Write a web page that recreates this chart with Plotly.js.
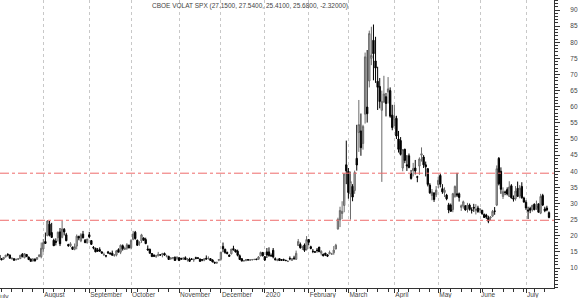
<!DOCTYPE html>
<html>
<head>
<meta charset="utf-8">
<script src="https://cdn.plot.ly/plotly-3.0.1.min.js"></script>
<style>html,body{margin:0;padding:0;background:#fff;}#chart{width:580px;height:298px;}</style>
</head>
<body>
<div id="chart"></div>
<script>
// Trading-day OHLC of CBOE VIX, July 2019 - 17 July 2020
const open = [
  14.9,14.0,12.9,12.8,13.5,14.2,14.0,12.9,12.9,12.6,12.7,12.9,14.3,13.2,14.2,13.4,12.8,12.2,12.8,12.7,13.6,13.5,
  15.9,18.2,20.0,23.6,21.0,18.6,18.3,19.4,21.2,19.5,22.0,20.3,17.3,16.9,16.5,15.8,16.8,19.8,18.4,20.5,18.6,17.8,
  20.3,18.5,16.4,16.1,15.6,15.7,15.0,14.1,13.8,15.0,14.5,14.6,13.9,14.0,15.7,14.9,16.9,15.8,16.1,17.1,
  16.3,18.9,21.1,18.6,17.7,18.4,19.3,18.8,15.9,15.8,14.5,14.0,13.6,13.8,14.1,14.1,14.5,13.7,13.6,12.8,13.1,13.3,12.9,
  13.2,12.9,12.7,13.2,12.5,12.8,12.7,12.5,13.2,13.1,12.8,12.6,12.4,13.0,12.9,12.9,12.5,11.8,11.5,12.4,
  12.7,16.7,15.8,14.8,14.0,14.4,16.0,15.6,15.2,13.8,12.9,12.2,12.3,12.6,12.5,12.6,12.6,12.8,12.7,13.8,14.8,
  13.5,15.0,15.0,13.9,15.5,12.9,12.4,12.9,12.6,12.6,12.4,12.0,13.0,12.4,13.1,12.7,17.0,17.3,16.3,17.1,15.8,
  18.8,16.6,15.2,15.0,15.5,16.5,14.6,14.3,14.6,14.1,14.4,14.3,14.7,15.9,22.1,24.9,26.9,29.4,42.0,
  40.0,33.0,35.3,34.0,44.0,52.0,52.5,48.6,57.7,59.9,68.0,75.0,80.6,74.2,67.9,66.3,58.9,61.5,63.1,64.6,65.0,57.4,
  56.0,56.4,50.0,49.5,41.0,46.8,42.0,44.8,39.3,40.2,41.0,38.3,41.6,45.0,44.4,42.0,40.8,35.7,32.5,33.3,32.7,
  35.9,38.7,34.6,33.4,32.6,29.6,29.5,28.1,32.2,33.0,33.0,28.8,29.2,29.3,28.6,29.5,28.0,28.8,27.9,28.6,
  28.0,27.9,26.6,26.4,25.6,25.5,26.1,27.7,29.5,44.0,40.0,32.2,33.5,34.3,32.2,35.5,31.7,31.5,34.7,32.3,35.3,31.7,
  30.4,28.0,28.5,28.0,29.8,28.5,29.9,27.0,32.5,28.3,28.6,27.15
];
const high = [
  15.1,14.3,13.0,13.4,14.1,14.6,14.2,13.4,13.0,12.9,13.0,14.0,14.6,14.5,14.3,13.5,12.9,13.1,12.9,13.3,14.3,17.9,
  19.0,21.0,24.8,24.6,24.0,19.1,19.2,21.3,22.4,24.6,22.4,20.9,17.5,18.0,16.6,17.6,20.4,20.0,20.8,21.5,19.0,19.0,
  21.2,18.6,16.8,16.3,16.2,16.4,15.2,14.8,14.0,15.3,14.9,15.4,14.2,15.6,16.1,17.3,17.3,16.6,17.7,17.2,
  18.9,21.5,21.5,18.8,18.3,20.6,19.5,19.4,17.0,16.0,14.6,14.2,14.1,15.0,14.3,14.7,14.8,14.1,13.8,13.3,13.4,13.6,13.7,
  13.3,13.2,13.3,13.6,13.1,13.2,13.1,12.9,13.5,13.4,12.9,12.7,12.9,13.9,13.6,13.1,12.7,11.9,11.9,12.8,
  15.0,17.9,16.0,15.1,14.2,15.9,16.9,15.8,15.7,14.2,13.0,12.5,12.8,12.7,12.7,12.8,12.8,12.8,13.7,15.1,15.0,
  13.7,16.2,16.4,14.5,16.2,13.3,12.9,13.0,12.7,12.9,12.5,12.3,13.6,12.9,13.8,15.4,19.0,17.9,16.9,17.6,19.9,
  19.0,16.9,15.9,15.3,16.2,16.5,15.5,14.4,14.7,14.2,15.4,14.7,16.8,17.5,25.6,29.0,30.7,39.2,49.5,
  41.0,39.9,36.0,40.2,54.4,62.1,57.9,54.4,76.8,77.6,83.6,84.8,85.5,81.7,72.4,68.9,65.0,69.6,64.3,69.2,66.0,60.6,
  60.6,57.2,52.5,50.6,46.8,47.0,45.0,45.5,40.4,42.6,43.5,38.6,44.3,47.4,45.0,43.0,41.0,36.3,34.5,33.3,35.4,
  38.3,39.2,36.0,35.0,33.0,30.2,30.0,33.3,35.6,39.5,33.4,29.7,30.9,29.4,30.2,30.0,28.8,29.9,29.8,29.3,
  28.6,28.0,26.9,26.8,26.2,26.1,28.0,28.9,41.8,44.4,41.2,35.0,34.0,35.0,36.9,36.0,32.5,35.4,36.8,35.7,36.6,32.1,
  31.0,29.0,29.0,29.6,30.0,30.9,30.0,33.0,33.0,29.0,29.3,27.54
];
const low = [
  13.8,12.9,12.4,12.5,13.2,13.6,12.9,12.6,12.3,12.3,12.5,12.8,13.3,13.0,13.4,12.5,12.0,12.0,12.1,12.5,13.3,13.0,
  15.0,17.5,19.9,19.8,19.3,16.9,17.0,18.2,16.8,19.2,20.1,18.3,16.6,16.5,15.6,15.5,15.8,18.6,18.0,19.2,17.7,17.6,
  19.2,17.2,15.8,14.9,15.0,15.0,14.5,13.7,13.3,14.4,14.1,13.9,13.5,13.6,14.9,14.3,15.4,15.6,15.6,16.1,
  15.8,18.6,18.8,16.9,16.9,17.8,18.4,17.4,15.5,14.5,13.5,13.4,13.1,13.6,13.8,13.3,13.8,13.3,12.6,12.6,12.7,12.2,12.4,
  12.2,12.5,12.6,12.6,12.0,11.9,12.5,11.9,12.7,12.8,12.0,12.1,12.1,12.7,12.6,12.3,11.8,11.4,11.4,12.1,
  12.3,14.9,14.4,14.2,13.5,14.2,15.4,14.8,13.6,12.5,12.1,12.0,12.1,12.3,12.2,12.3,12.5,12.4,12.6,13.6,13.6,
  12.2,13.1,13.5,13.4,13.0,12.4,12.1,12.2,12.3,12.2,12.1,11.9,12.4,12.2,12.5,12.5,16.8,16.0,15.6,15.0,15.4,
  17.0,15.8,14.6,14.7,14.8,15.0,13.9,13.7,13.7,13.4,14.3,14.1,14.1,15.8,21.9,22.7,25.2,27.3,36.0,
  31.5,25.0,30.7,33.0,40.2,46.0,44.8,46.7,54.8,55.1,66.0,72.9,68.2,67.4,59.0,59.5,36.7,61.2,57.0,61.0,56.6,52.7,
  54.0,50.0,45.8,44.9,40.0,42.5,40.1,40.9,37.4,38.4,39.0,36.6,38.9,43.0,41.0,38.4,35.3,33.0,31.0,30.5,32.0,
  34.8,35.0,33.0,32.0,31.0,27.0,27.5,27.3,31.8,32.0,30.6,27.7,28.4,27.8,27.2,27.8,26.9,27.4,26.6,27.1,
  27.0,26.5,25.6,25.2,23.9,24.8,25.8,26.5,29.2,35.6,33.0,31.4,32.6,32.5,32.0,31.5,30.6,30.9,32.0,31.6,31.5,30.3,
  28.0,25.2,27.0,27.5,27.9,28.0,27.2,26.7,29.2,27.3,27.6,25.41
];
const close = [
  14.06,12.93,12.57,13.28,13.96,14.09,13.03,12.93,12.39,12.68,12.86,13.97,13.53,14.45,13.53,12.61,12.07,12.74,12.16,13.24,13.94,16.12,
  17.87,17.61,24.59,20.17,19.49,16.91,17.97,21.09,17.52,22.10,21.18,18.47,16.88,17.50,15.80,16.68,19.87,19.32,20.31,19.35,17.88,18.98,
  19.66,17.33,16.27,15.00,15.27,15.20,14.61,14.22,13.74,14.67,14.44,13.95,14.05,15.32,14.91,17.05,15.96,16.07,17.22,16.24,
  18.56,20.56,19.12,17.04,17.86,20.28,18.64,17.57,15.58,14.57,13.54,13.68,13.79,14.25,14.00,14.46,14.01,13.71,12.65,13.11,13.20,12.33,13.22,
  12.30,12.83,13.10,12.62,12.73,12.07,12.69,12.68,13.00,13.05,12.05,12.46,12.86,12.78,12.98,12.34,11.87,11.54,11.75,12.62,
  14.91,15.96,14.80,14.52,13.62,15.86,15.68,14.99,13.94,12.63,12.14,12.29,12.58,12.50,12.51,12.61,12.67,12.65,13.43,14.82,13.78,
  12.47,14.02,13.85,13.79,13.45,12.54,12.56,12.32,12.39,12.42,12.32,12.10,12.85,12.91,12.98,14.56,18.23,16.28,16.39,15.49,18.84,
  17.97,16.05,15.15,14.96,15.47,15.04,15.18,13.74,14.15,13.68,14.83,14.38,15.56,17.08,25.03,27.85,27.56,39.16,40.11,
  33.42,36.82,31.99,39.62,41.94,54.46,47.30,53.90,75.47,57.83,82.69,75.91,76.45,72.00,66.04,61.59,61.67,63.95,61.00,65.54,57.08,53.54,
  57.06,50.91,46.80,45.24,46.70,43.35,41.67,41.17,37.76,40.84,40.11,38.15,43.83,45.41,41.98,41.38,35.93,33.29,33.57,31.23,34.15,
  37.19,35.97,33.61,34.12,31.44,27.98,27.57,33.04,35.28,32.61,31.89,29.30,30.53,27.99,29.53,28.16,27.91,28.59,28.12,27.51,
  28.23,26.84,25.66,25.81,24.52,25.81,27.57,27.57,40.79,36.09,34.40,33.67,33.47,32.94,35.12,31.77,31.37,33.84,32.22,34.73,31.78,30.43,
  28.62,27.68,27.94,29.43,28.08,29.26,27.29,32.19,29.52,27.76,28.00,25.68
];
// month start positions (trading-day index) and labels
const monthStart = [0,22,44,64,87,107,128,149,168,190,211,231,253];
const monthNames = ["July","August","September","October","November","December","2020","February","March","April","May","June","July"];
const yTicks = [10,15,20,25,30,35,40,45,50,55,60,65,70,75,80,85,90];
const levels = [39.4, 24.8];

const idx = close.map((_, i) => i);
const n = close.length;
const fmt = (v, d) => v.toFixed(d);
const titleText = "CBOE VOLAT SPX (" + fmt(open[n-1],4) + ", " + fmt(high[n-1],4) + ", " +
  fmt(low[n-1],4) + ", " + fmt(close[n-1],4) + ", " + fmt(close[n-1]-close[n-2],5) + ")";

const FONT = "Liberation Sans, Arial, sans-serif";
const trace = {
  type: "candlestick", x: idx, open: open, high: high, low: low, close: close,
  increasing: {line: {color: "#6a6a6a", width: 1}, fillcolor: "#b8b8b8"},
  decreasing: {line: {color: "#000000", width: 1}, fillcolor: "#000000"},
  whiskerwidth: 0, hoverinfo: "none", showlegend: false
};

const layout = {
  width: 580, height: 298,
  margin: {l: 0, r: 26, t: 0, b: 10, pad: 0},
  paper_bgcolor: "#fff", plot_bgcolor: "#fff",
  showlegend: false,
  boxgap: 0.1,
  title: {text: titleText, font: {family: FONT, size: 6.5, color: "#444"},
          xref: "container", x: 0.431, xanchor: "center", yref: "container", y: 0.981, yanchor: "middle"},
  xaxis: {
    range: [1.28, 266.4], rangeslider: {visible: false},
    tickmode: "array", tickvals: monthStart, ticktext: monthNames,
    ticklabelposition: "outside right",
    ticks: "outside", ticklen: 4, tickcolor: "#333", tickwidth: 1,
    tickfont: {family: FONT, size: 6.5, color: "#444"},
    showline: true, linecolor: "#333", linewidth: 1,
    showgrid: true, gridcolor: "#c8c8c8", gridwidth: 1, griddash: "dot",
    zeroline: false, fixedrange: true,
    minor: {tick0: 22, dtick: 5, ticks: "outside", ticklen: 3, tickcolor: "#333", showgrid: false}
  },
  yaxis: {
    side: "right", range: [3.8, 93.1],
    tickmode: "array", tickvals: yTicks,
    ticks: "outside", ticklen: 5, tickcolor: "#333", tickwidth: 1,
    ticklabelstandoff: 9,
    tickfont: {family: FONT, size: 6.5, color: "#444"},
    showline: true, linecolor: "#333", linewidth: 1,
    showgrid: false, zeroline: false, fixedrange: true,
    minor: {dtick: 1, ticks: "outside", ticklen: 3, tickcolor: "#333", showgrid: false}
  },
  shapes: levels.map(v => ({
    type: "line", xref: "paper", x0: 0, x1: 1, yref: "y", y0: v, y1: v,
    line: {color: "#ee6b6b", width: 1, dash: "dashdot"}, layer: "above"
  })),
  annotations: [{
    text: monthNames[0], xref: "paper", x: 0, xanchor: "left", xshift: -5,
    yref: "paper", y: 0, yanchor: "top", yshift: -3, showarrow: false,
    font: {family: FONT, size: 6.5, color: "#444"}
  }]
};

Plotly.newPlot("chart", [trace], layout, {staticPlot: true, displayModeBar: false});
</script>
</body>
</html>
